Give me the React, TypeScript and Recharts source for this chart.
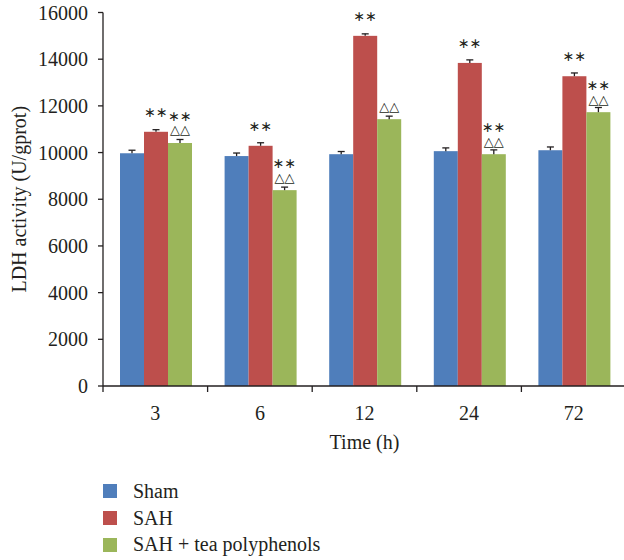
import { BarChart, Bar, XAxis, YAxis, LabelList } from 'recharts';

const categories = ['3', '6', '12', '24', '72'];
const shamValues = [9970, 9850, 9930, 10060, 10100];
const sahValues = [10890, 10290, 15000, 13840, 13270];
const tpValues = [10410, 8390, 11430, 9930, 11730];
const shamErrors = [130, 130, 115, 140, 140];
const sahErrors = [90, 130, 85, 130, 140];
const tpErrors = [150, 130, 130, 185, 200];
const sahStars = ['**', '**', '**', '**', '**'];
const tpStars = ['**', '**', '', '**', '**'];
const tpTriangles = ['△△', '△△', '△△', '△△', '△△'];
const yTicks = [0, 2000, 4000, 6000, 8000, 10000, 12000, 14000, 16000];

const series = [
  { key: 'sham', name: 'Sham', color: '#4F7EBB' },
  { key: 'sah', name: 'SAH', color: '#BD4F4C' },
  { key: 'tp', name: 'SAH + tea polyphenols', color: '#9BB65A' },
];

const data = categories.map((c, i) => ({
  time: c,
  sham: shamValues[i],
  sah: sahValues[i],
  tp: tpValues[i],
  shamErr: shamErrors[i],
  sahErr: sahErrors[i],
  tpErr: tpErrors[i],
  sahStar: sahStars[i],
  tpStar: tpStars[i],
  tpTri: tpTriangles[i],
}));

const ink = '#231f20';
const serif = "'Liberation Serif', 'DejaVu Serif', serif";

const XTick = (props: any) => {
  const { x, y, payload, index } = props;
  const half = payload.offset || 52;
  return (
    <g>
      <line x1={x - half} x2={x - half} y1={y} y2={y + 6} stroke={ink} strokeWidth={1.3} />
      {index === categories.length - 1 && (
        <line x1={x + half} x2={x + half} y1={y} y2={y + 6} stroke={ink} strokeWidth={1.3} />
      )}
      <text x={x} y={y + 27} textAnchor="middle" dominantBaseline="central" fill={ink} fontSize={20} fontFamily={serif}>
        {payload.value}
      </text>
    </g>
  );
};

// bar with a one-sided (upward) error bar, length taken from the bar's own scale
const barWithError = (errKey: string) => (props: any) => {
  const { x, y, width, height, fill, payload, value } = props;
  const v = Array.isArray(value) ? value[1] - value[0] : value;
  const err = payload[errKey];
  const errPx = v ? (height / v) * err : 0;
  const cx = x + width / 2;
  return (
    <g>
      <rect x={x} y={y} width={width} height={height} fill={fill} />
      <line x1={cx} x2={cx} y1={y} y2={y - errPx} stroke={ink} strokeWidth={1.3} />
      <line x1={cx - 3.5} x2={cx + 3.5} y1={y - errPx} y2={y - errPx} stroke={ink} strokeWidth={1.3} />
    </g>
  );
};

const mark = (offset: number, size: number) => (props: any) => {
  const { x, y, width, value } = props;
  if (!value) return null;
  const text = value === '**' ? '\u2217\u2217' : value;
  return (
    <text
      x={x + width / 2}
      y={y - offset}
      textAnchor="middle"
      dominantBaseline="central"
      fill={ink}
      fontSize={size}
      fontFamily="'DejaVu Sans', sans-serif"
    >
      {text}
    </text>
  );
};

export default function App() {
  return (
    <div style={{ position: 'absolute', left: 0, top: 0, width: 624, height: 560, overflow: 'hidden', background: '#fff' }}>
      <BarChart
        width={626}
        height={560}
        data={data}
        margin={{ top: 12.5, right: 0, left: 0, bottom: 114 }}
        barCategoryGap={17}
        barGap={0}
      >
        <XAxis
          dataKey="time"
          height={60}
          tickSize={0}
          tickMargin={0}
          axisLine={{ stroke: ink, strokeWidth: 1.3 }}
          tickLine={false}
          tick={<XTick />}
          interval={0}
          label={({ viewBox }: any) => (
            <text
              x={viewBox.x + viewBox.width / 2}
              y={viewBox.y + 56}
              textAnchor="middle"
              dominantBaseline="central"
              fill={ink}
              fontSize={20}
              fontFamily={serif}
            >
              Time (h)
            </text>
          )}
        />
        <YAxis
          width={103}
          domain={[0, 16000]}
          ticks={yTicks}
          tickSize={5}
          tickMargin={10}
          axisLine={{ stroke: ink, strokeWidth: 1.3 }}
          tickLine={{ stroke: ink, strokeWidth: 1.3 }}
          tick={{ fill: ink, fontSize: 20, fontFamily: serif }}
          label={({ viewBox }: any) => (
            <text
              x={19}
              y={viewBox.y + viewBox.height / 2}
              textAnchor="middle"
              dominantBaseline="central"
              fill={ink}
              fontSize={20}
              fontFamily={serif}
              transform={`rotate(-90, 19, ${viewBox.y + viewBox.height / 2})`}
            >
              LDH activity (U/gprot)
            </text>
          )}
        />
        <Bar dataKey="sham" fill={series[0].color} isAnimationActive={false} shape={barWithError('shamErr')} />
        <Bar dataKey="sah" fill={series[1].color} isAnimationActive={false} shape={barWithError('sahErr')}>
          <LabelList dataKey="sahStar" content={mark(20, 14)} />
        </Bar>
        <Bar dataKey="tp" fill={series[2].color} isAnimationActive={false} shape={barWithError('tpErr')}>
          <LabelList dataKey="tpStar" content={mark(27, 14)} />
          <LabelList dataKey="tpTri" content={mark(13, 13)} />
        </Bar>
      </BarChart>
      <div style={{ position: 'absolute', left: 103, top: 478, fontFamily: serif, fontSize: 20, color: ink }}>
        {series.map((s) => (
          <div key={s.key} style={{ display: 'flex', alignItems: 'center', height: 26.8 }}>
            <div style={{ width: 14, height: 14, background: s.color, marginRight: 16 }} />
            <span>{s.name}</span>
          </div>
        ))}
      </div>
    </div>
  );
}
